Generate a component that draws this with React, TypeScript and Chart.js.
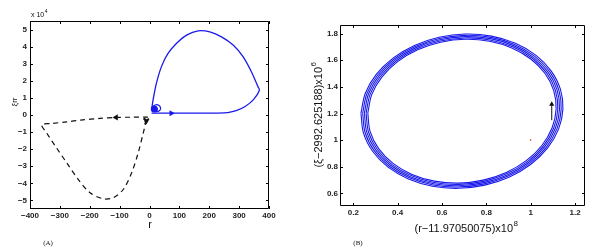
import React, { useEffect, useRef } from 'react';
import { Chart, registerables } from 'chart.js';

Chart.register(...registerables);

// ---------- Panel A data (r, xi in units of 1e4) ----------
const leftXTicks = [-400, -300, -200, -100, 0, 100, 200, 300, 400];
const leftYTicks = [-5, -4, -3, -2, -1, 0, 1, 2, 3, 4, 5];

const blueR = [7, 60, 150, 230, 262, 290, 320, 348, 368, 363, 341, 313, 280, 241, 202, 163, 124, 90, 62, 40, 23, 12, 7];
const blueXi = [0.11, 0.107, 0.107, 0.11, 0.14, 0.25, 0.5, 0.9, 1.45, 1.66, 2.53, 3.41, 4.09, 4.57, 4.86, 4.92, 4.67, 4.18, 3.6, 2.83, 1.85, 0.88, 0.3];

const blueLoopR = [7, 12, 22, 32, 37, 33, 22, 12, 9, 14, 22, 26, 22, 15, 10];
const blueLoopXi = [0.3, 0.5, 0.6, 0.55, 0.4, 0.25, 0.2, 0.25, 0.35, 0.45, 0.45, 0.35, 0.27, 0.3, 0.35];

const blackR = [-5, -60, -110, -166, -230, -277, -330, -361, -344, -311, -277, -238, -199, -155, -121, -88, -60, -38, -21, -12, -6];
const blackXi = [-0.12, -0.13, -0.14, -0.2, -0.3, -0.4, -0.5, -0.57, -1.06, -1.93, -2.8, -3.78, -4.55, -4.9, -4.84, -4.36, -3.39, -2.22, -1.06, -0.48, -0.3];

const blackKnotR = [-20, -8, -14, -4, -12, -16];
const blackKnotXi = [-0.2, -0.35, -0.5, -0.25, -0.4, -0.3];

const blueArrow = { r: 73, xi: 0.107 };
const blackArrow = { r: -112, xi: -0.14 };
const blueKnot = { r: 16, xi: 0.35 };

// ---------- Panel B data ----------
const rightXTicks = [0.2, 0.4, 0.6, 0.8, 1, 1.2];
const rightYTicks = [0.6, 0.8, 1, 1.2, 1.4, 1.6, 1.8];

const orbitX = [0.25, 0.261, 0.3015, 0.368, 0.457, 0.5615, 0.675, 0.7895, 0.897, 0.9904, 1.0635, 1.111, 1.13, 1.119, 1.0785, 1.0116, 0.923, 0.8185, 0.705, 0.5905, 0.483, 0.3896, 0.3165, 0.2689, 0.25];
const orbitY = [1.2025, 1.058, 0.9245, 0.811, 0.725, 0.6726, 0.6575, 0.6804, 0.74, 0.8321, 0.9505, 1.087, 1.2325, 1.377, 1.5105, 1.6241, 1.71, 1.7624, 1.7775, 1.7546, 1.695, 1.6029, 1.4845, 1.348, 1.2025];
const orbitCenter = { x: 0.69, y: 1.2175 };
const ringScales = [0.965, 0.9825, 1.0, 1.0175, 1.035];

const arrowLineX = [1.095, 1.095];
const arrowLineY = [1.15, 1.27];
const redPoint = { x: 1.0, y: 1.0 };

const BLUE = 'rgb(25,25,235)';
const TICK_FONT = { family: 'Liberation Sans, Arial, sans-serif', size: 8, weight: 'bold' as const };

const pts = (xs: number[], ys: number[]) => xs.map((x, i) => ({ x, y: ys[i] }));
const fmt = (v: number) => String(Math.round(v * 1000) / 1000).replace('-', '\u2212');

// plugin: MATLAB-like box, inward ticks, texts
const framePlugin = {
  id: 'frame',
  afterDatasetsDraw(chart: any) {
    const { ctx, chartArea: a, scales } = chart;
    ctx.save();
    ctx.strokeStyle = '#000';
    ctx.lineWidth = 1;
    ctx.beginPath();
    ctx.rect(Math.round(a.left) + 0.5, Math.round(a.top) + 0.5, Math.round(a.right - a.left) - 1, Math.round(a.bottom - a.top) - 1);
    ctx.stroke();
    const tl = 3;
    ctx.beginPath();
    for (const t of scales.x.ticks) {
      const px = Math.round(scales.x.getPixelForValue(t.value)) + 0.5;
      ctx.moveTo(px, a.bottom); ctx.lineTo(px, a.bottom - tl);
      ctx.moveTo(px, a.top); ctx.lineTo(px, a.top + tl);
    }
    for (const t of scales.y.ticks) {
      const py = Math.round(scales.y.getPixelForValue(t.value)) + 0.5;
      ctx.moveTo(a.left, py); ctx.lineTo(a.left + tl, py);
      ctx.moveTo(a.right, py); ctx.lineTo(a.right - tl, py);
    }
    ctx.stroke();
    ctx.restore();
  },
  afterDraw(chart: any, _args: any, opts: any) {
    const { ctx } = chart;
    for (const t of opts.texts || []) {
      ctx.save();
      ctx.translate(t.x, t.y);
      if (t.rot) ctx.rotate(t.rot);
      ctx.fillStyle = t.color || '#111';
      ctx.font = t.font;
      ctx.textBaseline = 'middle';
      const w = ctx.measureText(t.text).width;
      let sw = 0;
      if (t.sup) {
        ctx.font = t.supFont;
        sw = ctx.measureText(t.sup).width;
      }
      const total = w + sw;
      const start = t.align === 'left' ? 0 : -total / 2;
      ctx.font = t.font;
      ctx.textAlign = 'left';
      ctx.fillText(t.text, start, 0);
      if (t.sup) {
        ctx.font = t.supFont;
        ctx.fillText(t.sup, start + w + 0.5, -t.supRaise);
      }
      ctx.restore();
    }
  },
};

function makeScale(min: number, max: number, ticks: number[], fit: (s: any) => void, padding: number) {
  return {
    type: 'linear' as const,
    min,
    max,
    afterBuildTicks: (s: any) => { s.ticks = ticks.map((v) => ({ value: v })); },
    afterFit: fit,
    grid: { display: false, drawTicks: false },
    border: { display: false },
    ticks: { font: TICK_FONT, color: '#222', padding, autoSkip: false, maxRotation: 0, callback: (v: any) => fmt(Number(v)) },
  };
}

function leftConfig(): any {
  return {
    type: 'scatter',
    data: {
      datasets: [
        { data: pts(blueR, blueXi), showLine: true, borderColor: BLUE, borderWidth: 1.3, pointRadius: 0, tension: 0.3 },
        { data: pts(blueLoopR, blueLoopXi), showLine: true, borderColor: BLUE, borderWidth: 1.2, pointRadius: 0, tension: 0.4 },
        { data: [{ x: blueKnot.r, y: blueKnot.xi }], pointRadius: 3.5, backgroundColor: BLUE, borderWidth: 0 },
        { data: pts(blackR, blackXi), showLine: true, borderColor: '#111', borderWidth: 1.2, borderDash: [5, 4], pointRadius: 0, tension: 0.3 },
        { data: pts(blackKnotR, blackKnotXi), showLine: true, borderColor: '#111', borderWidth: 2, pointRadius: 0, tension: 0.4 },
        { data: [{ x: blueArrow.r, y: blueArrow.xi }], pointStyle: 'triangle', rotation: 90, pointRadius: 3.5, backgroundColor: BLUE, borderColor: BLUE, borderWidth: 0 },
        { data: [{ x: blackArrow.r, y: blackArrow.xi }], pointStyle: 'triangle', rotation: -90, pointRadius: 3.5, backgroundColor: '#111', borderColor: '#111', borderWidth: 0 },
      ],
    },
    options: {
      animation: false,
      responsive: false,
      layout: { padding: { left: 0, top: 21, right: 31, bottom: 0 } },
      plugins: {
        legend: { display: false },
        tooltip: { enabled: false },
        frame: {
          texts: [
            { text: 'x 10', sup: '4', x: 31, y: 15, font: '7px Liberation Sans', supFont: '5px Liberation Sans', supRaise: 3, align: 'left' },
            { text: 'r', x: 150, y: 225, font: '11px Liberation Sans' },
            { text: 'ξrr', x: 15, y: 102, rot: -Math.PI / 2, font: '8px Liberation Sans' },
            { text: '(A)', x: 48, y: 243, font: '7px Liberation Serif' },
          ],
        },
      },
      scales: {
        x: makeScale(-400, 400, leftXTicks, (s: any) => { s.height = 43; }, 2),
        y: makeScale(-5.5, 5.5, leftYTicks, (s: any) => { s.width = 30; }, 3),
      },
    },
    plugins: [framePlugin],
  };
}

function rightConfig(): any {
  const rings = ringScales.map((k) => ({
    data: orbitX.map((x, i) => ({
      x: orbitCenter.x + (x - orbitCenter.x) * k,
      y: orbitCenter.y + (orbitY[i] - orbitCenter.y) * k,
    })),
    showLine: true,
    borderColor: BLUE,
    borderWidth: 1.1,
    pointRadius: 0,
    tension: 0.34,
  }));
  return {
    type: 'scatter',
    data: {
      datasets: [
        ...rings,
        { data: pts(arrowLineX, arrowLineY), showLine: true, borderColor: '#111', borderWidth: 1, pointRadius: 0 },
        { data: [{ x: arrowLineX[1], y: arrowLineY[1] }], pointStyle: 'triangle', rotation: 0, pointRadius: 3, backgroundColor: '#111', borderWidth: 0 },
        { data: [redPoint], pointRadius: 0.8, backgroundColor: 'rgb(230,40,40)', borderWidth: 0 },
      ],
    },
    options: {
      animation: false,
      responsive: false,
      layout: { padding: { left: 0, top: 25, right: 26, bottom: 0 } },
      plugins: {
        legend: { display: false },
        tooltip: { enabled: false },
        frame: {
          texts: [
            { text: '(r\u221211.97050075)x10', sup: '8', x: 166, y: 229, font: '11px Liberation Sans', supFont: '8px Liberation Sans', supRaise: 5 },
            { text: '(ξ\u22122992.625188)x10', sup: '6', x: 19, y: 115, rot: -Math.PI / 2, font: '11px Liberation Sans', supFont: '8px Liberation Sans', supRaise: 5 },
            { text: '(B)', x: 58, y: 243, font: '7px Liberation Serif' },
          ],
        },
      },
      scales: {
        x: makeScale(0.14, 1.245, rightXTicks, (s: any) => { s.height = 46; }, 2),
        y: makeScale(0.505, 1.865, rightYTicks, (s: any) => { s.width = 40; }, 2),
      },
    },
    plugins: [framePlugin],
  };
}

function Panel({ make, width, left }: { make: () => any; width: number; left: number }) {
  const ref = useRef<HTMLCanvasElement | null>(null);
  useEffect(() => {
    const chart = new Chart(ref.current as HTMLCanvasElement, make());
    return () => chart.destroy();
  }, []);
  return (
    <canvas
      ref={ref}
      width={width}
      height={252}
      style={{ position: 'absolute', left, top: 0, width, height: 252 }}
    />
  );
}

export default function App() {
  return (
    <div style={{ position: 'absolute', left: 0, top: 0, width: 611, height: 252, background: '#fff', overflow: 'hidden' }}>
      <Panel make={leftConfig} width={300} left={0} />
      <Panel make={rightConfig} width={311} left={300} />
    </div>
  );
}
